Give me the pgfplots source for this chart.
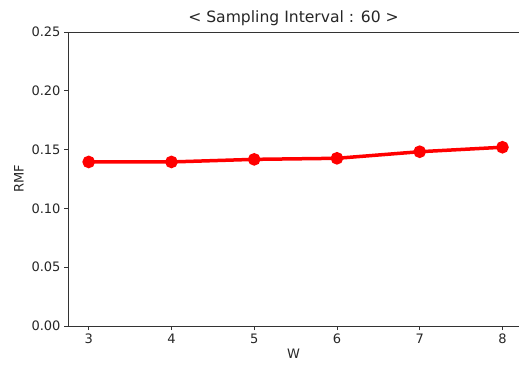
\documentclass[border=0pt]{standalone}
\usepackage{fontspec}
\setmainfont{DejaVu Sans}
\usepackage{pgfplots}
\pgfplotsset{compat=1.18}
\begin{document}
\begin{tikzpicture}
\begin{axis}[
  scale only axis,
  width=451pt, height=294pt,
  xmin=2.75, xmax=8.2,
  ymin=0, ymax=0.25,
  axis x line=box,
  axis y line=left,
  axis line style={-, line width=0.8pt, black!80},
  tick align=outside,
  tick pos=left,
  major tick length=4pt,
  tick style={black!80, line width=0.8pt},
  xtick={3,4,5,6,7,8},
  ytick={0,0.05,0.10,0.15,0.20,0.25},
  yticklabel style={/pgf/number format/fixed, /pgf/number format/fixed zerofill, /pgf/number format/precision=2},
  /pgf/number format/assume math mode=true,
  ticklabel style={font=\fontsize{13}{15}\selectfont, text=black!85},
  label style={font=\fontsize{13}{15}\selectfont, text=black!85},
  title style={font=\fontsize{15.6}{18}\selectfont, text=black!85, yshift=-3pt},
  title={< Sampling Interval : 60 >},
  xlabel={W},
  ylabel={RMF},
  xlabel style={yshift=1pt},
  ylabel style={yshift=1pt},
]
\addplot[red, line width=3.5pt, mark=*, mark size=4.5pt, mark options={solid, fill=red}] coordinates {
  (3,0.1395) (4,0.1395) (5,0.1417) (6,0.1426) (7,0.1482) (8,0.1520)
};
\end{axis}
\pgfresetboundingbox
\path[use as bounding box] (-68pt,-43pt) rectangle (451pt,326pt);
\end{tikzpicture}
\end{document}
